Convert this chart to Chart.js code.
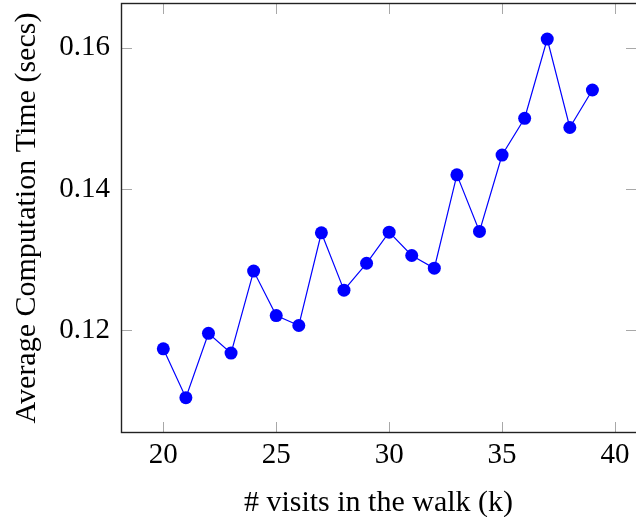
<!DOCTYPE html>
<html>
<head>
<meta charset="utf-8">
<script src="https://cdn.jsdelivr.net/npm/chart.js@4"></script>
<style>
  html, body { margin: 0; padding: 0; background: #fff; }
  #wrap { width: 636px; height: 517px; }
</style>
</head>
<body>
<div id="wrap"><canvas id="timeChart" width="636" height="517"></canvas></div>
<script>
// Data
const visits = [20, 21, 22, 23, 24, 25, 26, 27, 28, 29, 30, 31, 32, 33, 34, 35, 36, 37, 38, 39];
const avgTime = [0.1174, 0.1105, 0.1196, 0.1168, 0.1284, 0.1221, 0.1207, 0.1338, 0.1257, 0.1295,
                 0.1339, 0.1306, 0.1288, 0.1420, 0.1340, 0.1448, 0.1500, 0.1612, 0.1487, 0.1540];
const xTicks = [20, 25, 30, 35, 40];
const yTicks = [0.12, 0.14, 0.16];

const serif = "'Liberation Serif', 'Times New Roman', serif";

// pgfplots-like frame with inward ticks on every side
// (the right edge of the original frame sits just past the canvas)
const framePlugin = {
  id: "frame",
  beforeDatasetsDraw(chart) {
    const { ctx, chartArea: a, scales } = chart;
    const len = 11;
    const right = a.right + 1;
    ctx.save();
    ctx.strokeStyle = "#a8a8a8";
    ctx.lineWidth = 1;
    ctx.beginPath();
    xTicks.forEach((v) => {
      const px = Math.round(scales.x.getPixelForValue(v)) + 0.5;
      ctx.moveTo(px, a.bottom); ctx.lineTo(px, a.bottom - len);
      ctx.moveTo(px, a.top); ctx.lineTo(px, a.top + len);
    });
    yTicks.forEach((v) => {
      const py = Math.round(scales.y.getPixelForValue(v)) + 0.5;
      ctx.moveTo(a.left, py); ctx.lineTo(a.left + len, py);
      ctx.moveTo(right, py); ctx.lineTo(right - len, py);
    });
    ctx.stroke();
    ctx.restore();
  },
  afterDraw(chart) {
    const { ctx, chartArea: a } = chart;
    ctx.save();
    ctx.strokeStyle = "#222";
    ctx.lineWidth = 1.4;
    ctx.strokeRect(a.left + 0.5, a.top + 0.5, a.right + 2 - a.left, a.bottom - a.top - 1);
    ctx.restore();
  },
};

new Chart(document.getElementById("timeChart").getContext("2d"), {
  type: "line",
  data: {
    datasets: [
      {
        data: visits.map((k, i) => ({ x: k, y: avgTime[i] })),
        borderColor: "#0000ff",
        backgroundColor: "#0000ff",
        borderWidth: 1.2,
        pointRadius: 6.5,
        pointBorderWidth: 0,
        pointBackgroundColor: "#0000ff",
        tension: 0,
      },
    ],
  },
  options: {
    responsive: false,
    animation: false,
    layout: { autoPadding: false, padding: { left: 12, right: 0, top: 3, bottom: 0 } },
    plugins: { legend: { display: false }, tooltip: { enabled: false } },
    scales: {
      x: {
        type: "linear",
        min: 18.127,
        max: 40.93,
        afterBuildTicks: (s) => { s.ticks = xTicks.map((v) => ({ value: v })); },
        afterFit: (s) => {
          s.height = 84;
          s.paddingLeft = 0;
          s.paddingRight = 0;
        },
        grid: { display: false, drawTicks: false },
        border: { display: false },
        ticks: {
          color: "#000",
          padding: 5,
          maxRotation: 0,
          font: { family: serif, size: 29 },
        },
        title: {
          display: true,
          text: "# visits in the walk (k)",
          color: "#000",
          font: { family: serif, size: 30, lineHeight: 1 },
          padding: { top: 0, bottom: -1 },
        },
      },
      y: {
        type: "linear",
        min: 0.1055,
        max: 0.1663,
        afterBuildTicks: (s) => { s.ticks = yTicks.map((v) => ({ value: v })); },
        afterFit: (s) => {
          s.width = 109;
          s.paddingTop = 0;
          s.paddingBottom = 0;
        },
        grid: { display: false, drawTicks: false },
        border: { display: false },
        ticks: {
          color: "#000",
          padding: 11,
          font: { family: serif, size: 29 },
          callback: (v) => v.toFixed(2),
        },
        title: {
          display: true,
          text: "Average Computation Time (secs)",
          color: "#000",
          font: { family: serif, size: 30, lineHeight: 1 },
          padding: { top: 0, bottom: 0 },
        },
      },
    },
  },
  plugins: [framePlugin],
});
</script>
</body>
</html>
